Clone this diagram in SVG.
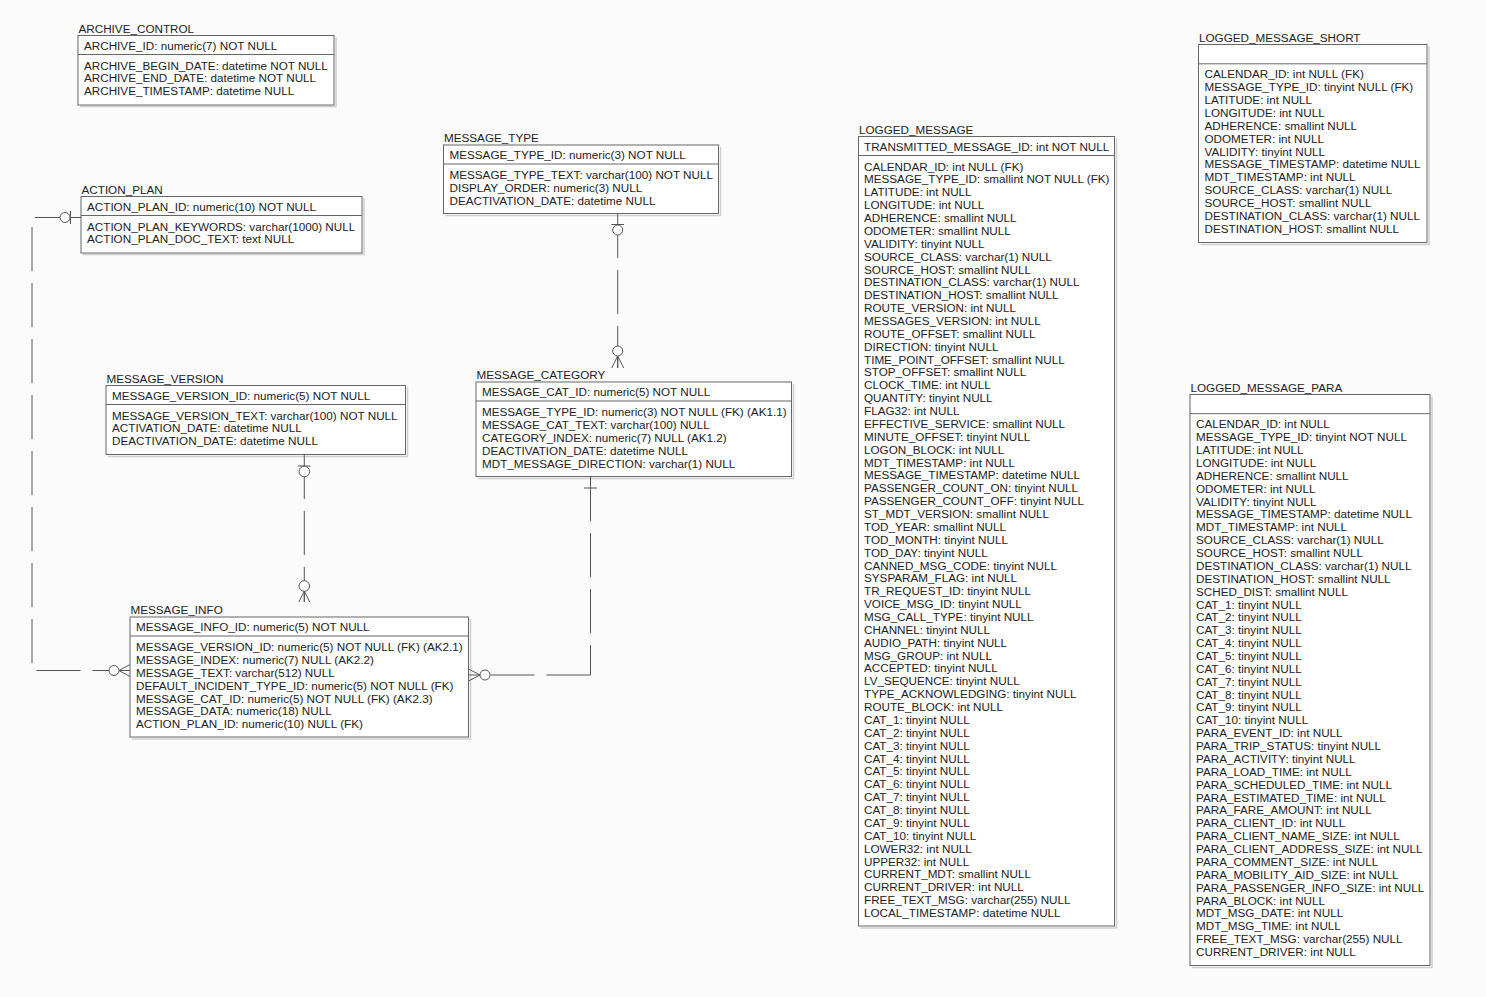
<svg xmlns="http://www.w3.org/2000/svg" width="1486" height="997" viewBox="0 0 1486 997">
  <style>
    text { font-family: "Liberation Sans", Arial, sans-serif; font-size: 11.7px; fill: #222222; }
    .box { fill: #ffffff; stroke: #666666; stroke-width: 1; }
    .shadow { fill: none; stroke: #cfcfcf; stroke-width: 1.5; }
    .div { stroke: #666666; stroke-width: 1; }
    .rel { fill: none; stroke: #555555; stroke-width: 1; }
    .dash { fill: none; stroke: #555555; stroke-width: 1; stroke-dasharray: 44 12; }
    .ring { fill: #ffffff; stroke: #555555; stroke-width: 1; }
  </style>
  <rect width="1486" height="997" fill="#fbfbfb"/>

  <!-- ARCHIVE_CONTROL -->
  <g id="archive_control">
    <text x="78.5" y="32.5">ARCHIVE_CONTROL</text>
    <polyline class="shadow" points="336,37 336,106.5 80,106.5"/>
    <rect class="box" x="78" y="35.5" width="256" height="69.5"/>
    <text x="84" y="49.5">ARCHIVE_ID: numeric(7) NOT NULL</text>
    <line class="div" x1="78" y1="54.5" x2="334" y2="54.5"/>
    <text x="84" y="69.5">ARCHIVE_BEGIN_DATE: datetime NOT NULL</text>
    <text x="84" y="82.4">ARCHIVE_END_DATE: datetime NOT NULL</text>
    <text x="84" y="95.3">ARCHIVE_TIMESTAMP: datetime NULL</text>
  </g>

  <!-- ACTION_PLAN -->
  <g id="action_plan">
    <text x="81.5" y="193.5">ACTION_PLAN</text>
    <polyline class="shadow" points="364,198 364,254.5 83,254.5"/>
    <rect class="box" x="81" y="196.5" width="281" height="56.5"/>
    <text x="87" y="210.5">ACTION_PLAN_ID: numeric(10) NOT NULL</text>
    <line class="div" x1="81" y1="215.5" x2="362" y2="215.5"/>
    <text x="87" y="230.5">ACTION_PLAN_KEYWORDS: varchar(1000) NULL</text>
    <text x="87" y="243.4">ACTION_PLAN_DOC_TEXT: text NULL</text>
  </g>

  <!-- MESSAGE_TYPE -->
  <g id="message_type">
    <text x="444" y="142">MESSAGE_TYPE</text>
    <polyline class="shadow" points="720.5,147 720.5,215.5 445.5,215.5"/>
    <rect class="box" x="443.5" y="145" width="275" height="68.5"/>
    <text x="449.5" y="159">MESSAGE_TYPE_ID: numeric(3) NOT NULL</text>
    <line class="div" x1="443.5" y1="164" x2="718.5" y2="164"/>
    <text x="449.5" y="179">MESSAGE_TYPE_TEXT: varchar(100) NOT NULL</text>
    <text x="449.5" y="191.9">DISPLAY_ORDER: numeric(3) NULL</text>
    <text x="449.5" y="204.8">DEACTIVATION_DATE: datetime NULL</text>
  </g>

  <!-- MESSAGE_VERSION -->
  <g id="message_version">
    <text x="106.5" y="382.5">MESSAGE_VERSION</text>
    <polyline class="shadow" points="407.5,387.5 407.5,456.5 108,456.5"/>
    <rect class="box" x="106" y="385.5" width="299.5" height="69"/>
    <text x="112" y="399.5">MESSAGE_VERSION_ID: numeric(5) NOT NULL</text>
    <line class="div" x1="106" y1="404.5" x2="405.5" y2="404.5"/>
    <text x="112" y="419.5">MESSAGE_VERSION_TEXT: varchar(100) NOT NULL</text>
    <text x="112" y="432.4">ACTIVATION_DATE: datetime NULL</text>
    <text x="112" y="445.2">DEACTIVATION_DATE: datetime NULL</text>
  </g>

  <!-- MESSAGE_CATEGORY -->
  <g id="message_category">
    <text x="476.5" y="379">MESSAGE_CATEGORY</text>
    <polyline class="shadow" points="793.5,384 793.5,478.5 478,478.5"/>
    <rect class="box" x="476" y="382" width="315.5" height="94.5"/>
    <text x="482" y="396">MESSAGE_CAT_ID: numeric(5) NOT NULL</text>
    <line class="div" x1="476" y1="401" x2="791.5" y2="401"/>
    <text x="482" y="416">MESSAGE_TYPE_ID: numeric(3) NOT NULL (FK) (AK1.1)</text>
    <text x="482" y="428.9">MESSAGE_CAT_TEXT: varchar(100) NULL</text>
    <text x="482" y="441.7">CATEGORY_INDEX: numeric(7) NULL (AK1.2)</text>
    <text x="482" y="454.6">DEACTIVATION_DATE: datetime NULL</text>
    <text x="482" y="467.5">MDT_MESSAGE_DIRECTION: varchar(1) NULL</text>
  </g>

  <!-- MESSAGE_INFO -->
  <g id="message_info">
    <text x="130.5" y="614">MESSAGE_INFO</text>
    <polyline class="shadow" points="470.5,619 470.5,739 132,739"/>
    <rect class="box" x="130" y="617" width="338.5" height="120"/>
    <text x="136" y="631">MESSAGE_INFO_ID: numeric(5) NOT NULL</text>
    <line class="div" x1="130" y1="636" x2="468.5" y2="636"/>
    <text x="136" y="651">MESSAGE_VERSION_ID: numeric(5) NOT NULL (FK) (AK2.1)</text>
    <text x="136" y="663.9">MESSAGE_INDEX: numeric(7) NULL (AK2.2)</text>
    <text x="136" y="676.7">MESSAGE_TEXT: varchar(512) NULL</text>
    <text x="136" y="689.6">DEFAULT_INCIDENT_TYPE_ID: numeric(5) NOT NULL (FK)</text>
    <text x="136" y="702.5">MESSAGE_CAT_ID: numeric(5) NOT NULL (FK) (AK2.3)</text>
    <text x="136" y="715.4">MESSAGE_DATA: numeric(18) NULL</text>
    <text x="136" y="728.2">ACTION_PLAN_ID: numeric(10) NULL (FK)</text>
  </g>

  <!-- LOGGED_MESSAGE -->
  <g id="logged_message">
    <text x="859" y="133.5">LOGGED_MESSAGE</text>
    <polyline class="shadow" points="1116.5,138.5 1116.5,928 860.5,928"/>
    <rect class="box" x="858.5" y="136.5" width="256" height="789.5"/>
    <text x="864" y="150.5">TRANSMITTED_MESSAGE_ID: int NOT NULL</text>
    <line class="div" x1="858.5" y1="155.5" x2="1114.5" y2="155.5"/>
    <text x="864" y="170.5">CALENDAR_ID: int NULL (FK)</text>
    <text x="864" y="183.4">MESSAGE_TYPE_ID: smallint NOT NULL (FK)</text>
    <text x="864" y="196.2">LATITUDE: int NULL</text>
    <text x="864" y="209.1">LONGITUDE: int NULL</text>
    <text x="864" y="222">ADHERENCE: smallint NULL</text>
    <text x="864" y="234.9">ODOMETER: smallint NULL</text>
    <text x="864" y="247.7">VALIDITY: tinyint NULL</text>
    <text x="864" y="260.6">SOURCE_CLASS: varchar(1) NULL</text>
    <text x="864" y="273.5">SOURCE_HOST: smallint NULL</text>
    <text x="864" y="286.3">DESTINATION_CLASS: varchar(1) NULL</text>
    <text x="864" y="299.2">DESTINATION_HOST: smallint NULL</text>
    <text x="864" y="312.1">ROUTE_VERSION: int NULL</text>
    <text x="864" y="324.9">MESSAGES_VERSION: int NULL</text>
    <text x="864" y="337.8">ROUTE_OFFSET: smallint NULL</text>
    <text x="864" y="350.7">DIRECTION: tinyint NULL</text>
    <text x="864" y="363.6">TIME_POINT_OFFSET: smallint NULL</text>
    <text x="864" y="376.4">STOP_OFFSET: smallint NULL</text>
    <text x="864" y="389.3">CLOCK_TIME: int NULL</text>
    <text x="864" y="402.2">QUANTITY: tinyint NULL</text>
    <text x="864" y="415">FLAG32: int NULL</text>
    <text x="864" y="427.9">EFFECTIVE_SERVICE: smallint NULL</text>
    <text x="864" y="440.8">MINUTE_OFFSET: tinyint NULL</text>
    <text x="864" y="453.6">LOGON_BLOCK: int NULL</text>
    <text x="864" y="466.5">MDT_TIMESTAMP: int NULL</text>
    <text x="864" y="479.4">MESSAGE_TIMESTAMP: datetime NULL</text>
    <text x="864" y="492.3">PASSENGER_COUNT_ON: tinyint NULL</text>
    <text x="864" y="505.1">PASSENGER_COUNT_OFF: tinyint NULL</text>
    <text x="864" y="518">ST_MDT_VERSION: smallint NULL</text>
    <text x="864" y="530.9">TOD_YEAR: smallint NULL</text>
    <text x="864" y="543.7">TOD_MONTH: tinyint NULL</text>
    <text x="864" y="556.6">TOD_DAY: tinyint NULL</text>
    <text x="864" y="569.5">CANNED_MSG_CODE: tinyint NULL</text>
    <text x="864" y="582.3">SYSPARAM_FLAG: int NULL</text>
    <text x="864" y="595.2">TR_REQUEST_ID: tinyint NULL</text>
    <text x="864" y="608.1">VOICE_MSG_ID: tinyint NULL</text>
    <text x="864" y="620.9">MSG_CALL_TYPE: tinyint NULL</text>
    <text x="864" y="633.8">CHANNEL: tinyint NULL</text>
    <text x="864" y="646.7">AUDIO_PATH: tinyint NULL</text>
    <text x="864" y="659.6">MSG_GROUP: int NULL</text>
    <text x="864" y="672.4">ACCEPTED: tinyint NULL</text>
    <text x="864" y="685.3">LV_SEQUENCE: tinyint NULL</text>
    <text x="864" y="698.2">TYPE_ACKNOWLEDGING: tinyint NULL</text>
    <text x="864" y="711">ROUTE_BLOCK: int NULL</text>
    <text x="864" y="723.9">CAT_1: tinyint NULL</text>
    <text x="864" y="736.8">CAT_2: tinyint NULL</text>
    <text x="864" y="749.6">CAT_3: tinyint NULL</text>
    <text x="864" y="762.5">CAT_4: tinyint NULL</text>
    <text x="864" y="775.4">CAT_5: tinyint NULL</text>
    <text x="864" y="788.2">CAT_6: tinyint NULL</text>
    <text x="864" y="801.1">CAT_7: tinyint NULL</text>
    <text x="864" y="814">CAT_8: tinyint NULL</text>
    <text x="864" y="826.9">CAT_9: tinyint NULL</text>
    <text x="864" y="839.7">CAT_10: tinyint NULL</text>
    <text x="864" y="852.6">LOWER32: int NULL</text>
    <text x="864" y="865.5">UPPER32: int NULL</text>
    <text x="864" y="878.3">CURRENT_MDT: smallint NULL</text>
    <text x="864" y="891.2">CURRENT_DRIVER: int NULL</text>
    <text x="864" y="904.1">FREE_TEXT_MSG: varchar(255) NULL</text>
    <text x="864" y="917">LOCAL_TIMESTAMP: datetime NULL</text>
  </g>

  <!-- LOGGED_MESSAGE_SHORT -->
  <g id="logged_message_short">
    <text x="1199" y="41.5">LOGGED_MESSAGE_SHORT</text>
    <polyline class="shadow" points="1429,46.5 1429,244.5 1200.5,244.5"/>
    <rect class="box" x="1198.5" y="44.5" width="228.5" height="198"/>
    <line class="div" x1="1198.5" y1="63.8" x2="1427" y2="63.8"/>
    <text x="1204.5" y="78.3">CALENDAR_ID: int NULL (FK)</text>
    <text x="1204.5" y="91.2">MESSAGE_TYPE_ID: tinyint NULL (FK)</text>
    <text x="1204.5" y="104">LATITUDE: int NULL</text>
    <text x="1204.5" y="116.9">LONGITUDE: int NULL</text>
    <text x="1204.5" y="129.8">ADHERENCE: smallint NULL</text>
    <text x="1204.5" y="142.7">ODOMETER: int NULL</text>
    <text x="1204.5" y="155.5">VALIDITY: tinyint NULL</text>
    <text x="1204.5" y="168.4">MESSAGE_TIMESTAMP: datetime NULL</text>
    <text x="1204.5" y="181.3">MDT_TIMESTAMP: int NULL</text>
    <text x="1204.5" y="194.1">SOURCE_CLASS: varchar(1) NULL</text>
    <text x="1204.5" y="207">SOURCE_HOST: smallint NULL</text>
    <text x="1204.5" y="219.9">DESTINATION_CLASS: varchar(1) NULL</text>
    <text x="1204.5" y="232.7">DESTINATION_HOST: smallint NULL</text>
  </g>

  <!-- LOGGED_MESSAGE_PARA -->
  <g id="logged_message_para">
    <text x="1190.5" y="391.5">LOGGED_MESSAGE_PARA</text>
    <polyline class="shadow" points="1432,396.5 1432,967.5 1192,967.5"/>
    <rect class="box" x="1190" y="394.5" width="240" height="571"/>
    <line class="div" x1="1190" y1="413.7" x2="1430" y2="413.7"/>
    <text x="1196" y="428.3">CALENDAR_ID: int NULL</text>
    <text x="1196" y="441.2">MESSAGE_TYPE_ID: tinyint NOT NULL</text>
    <text x="1196" y="454">LATITUDE: int NULL</text>
    <text x="1196" y="466.9">LONGITUDE: int NULL</text>
    <text x="1196" y="479.8">ADHERENCE: smallint NULL</text>
    <text x="1196" y="492.7">ODOMETER: int NULL</text>
    <text x="1196" y="505.5">VALIDITY: tinyint NULL</text>
    <text x="1196" y="518.4">MESSAGE_TIMESTAMP: datetime NULL</text>
    <text x="1196" y="531.3">MDT_TIMESTAMP: int NULL</text>
    <text x="1196" y="544.1">SOURCE_CLASS: varchar(1) NULL</text>
    <text x="1196" y="557">SOURCE_HOST: smallint NULL</text>
    <text x="1196" y="569.9">DESTINATION_CLASS: varchar(1) NULL</text>
    <text x="1196" y="582.7">DESTINATION_HOST: smallint NULL</text>
    <text x="1196" y="595.6">SCHED_DIST: smallint NULL</text>
    <text x="1196" y="608.5">CAT_1: tinyint NULL</text>
    <text x="1196" y="621.4">CAT_2: tinyint NULL</text>
    <text x="1196" y="634.2">CAT_3: tinyint NULL</text>
    <text x="1196" y="647.1">CAT_4: tinyint NULL</text>
    <text x="1196" y="660">CAT_5: tinyint NULL</text>
    <text x="1196" y="672.8">CAT_6: tinyint NULL</text>
    <text x="1196" y="685.7">CAT_7: tinyint NULL</text>
    <text x="1196" y="698.6">CAT_8: tinyint NULL</text>
    <text x="1196" y="711.4">CAT_9: tinyint NULL</text>
    <text x="1196" y="724.3">CAT_10: tinyint NULL</text>
    <text x="1196" y="737.2">PARA_EVENT_ID: int NULL</text>
    <text x="1196" y="750.1">PARA_TRIP_STATUS: tinyint NULL</text>
    <text x="1196" y="762.9">PARA_ACTIVITY: tinyint NULL</text>
    <text x="1196" y="775.8">PARA_LOAD_TIME: int NULL</text>
    <text x="1196" y="788.7">PARA_SCHEDULED_TIME: int NULL</text>
    <text x="1196" y="801.5">PARA_ESTIMATED_TIME: int NULL</text>
    <text x="1196" y="814.4">PARA_FARE_AMOUNT: int NULL</text>
    <text x="1196" y="827.3">PARA_CLIENT_ID: int NULL</text>
    <text x="1196" y="840.1">PARA_CLIENT_NAME_SIZE: int NULL</text>
    <text x="1196" y="853">PARA_CLIENT_ADDRESS_SIZE: int NULL</text>
    <text x="1196" y="865.9">PARA_COMMENT_SIZE: int NULL</text>
    <text x="1196" y="878.8">PARA_MOBILITY_AID_SIZE: int NULL</text>
    <text x="1196" y="891.6">PARA_PASSENGER_INFO_SIZE: int NULL</text>
    <text x="1196" y="904.5">PARA_BLOCK: int NULL</text>
    <text x="1196" y="917.4">MDT_MSG_DATE: int NULL</text>
    <text x="1196" y="930.2">MDT_MSG_TIME: int NULL</text>
    <text x="1196" y="943.1">FREE_TEXT_MSG: varchar(255) NULL</text>
    <text x="1196" y="956">CURRENT_DRIVER: int NULL</text>
  </g>

  <!-- relationships -->
  <g id="connectors">
    <!-- ACTION_PLAN to MESSAGE_INFO -->
    <line class="rel" x1="81" y1="217.5" x2="35" y2="217.5"/>
    <path class="dash" d="M32,227 V670.5 H109" stroke-dasharray="36 12"/>
    <circle class="ring" cx="65" cy="217.5" r="5"/>
    <line class="rel" x1="70.5" y1="211" x2="70.5" y2="224"/>
    <circle class="ring" cx="114" cy="670.5" r="5"/>
    <path class="rel" d="M119,670.5 H130 M119,670.5 L130,664.5 M119,670.5 L130,676.5"/>

    <!-- MESSAGE_TYPE to MESSAGE_CATEGORY -->
    <path class="dash" d="M617.7,214 V368"/>
    <line class="rel" x1="611.5" y1="224.5" x2="624" y2="224.5"/>
    <circle class="ring" cx="617.7" cy="230" r="5"/>
    <circle class="ring" cx="617.7" cy="351" r="5"/>
    <path class="rel" d="M617.7,356 V368 M617.7,356 L611.7,368 M617.7,356 L623.7,368"/>

    <!-- MESSAGE_VERSION to MESSAGE_INFO -->
    <path class="dash" d="M304.3,455 V602"/>
    <line class="rel" x1="298" y1="466" x2="310.5" y2="466"/>
    <circle class="ring" cx="304.3" cy="471.5" r="5.3"/>
    <circle class="ring" cx="304.3" cy="586" r="5.3"/>
    <path class="rel" d="M304.3,591.3 V602 M304.3,591.3 L298.8,602 M304.3,591.3 L309.8,602"/>

    <!-- MESSAGE_CATEGORY to MESSAGE_INFO -->
    <path class="dash" d="M590.5,477 V675"/>
    <path class="dash" d="M590.5,675 H486" stroke-dasharray="41 11"/>
    <line class="rel" x1="584" y1="488" x2="597" y2="488"/>
    <circle class="ring" cx="485" cy="675" r="5"/>
    <path class="rel" d="M480,675 H468.5 M480,675 L468.5,669 M480,675 L468.5,681"/>
  </g>
</svg>
